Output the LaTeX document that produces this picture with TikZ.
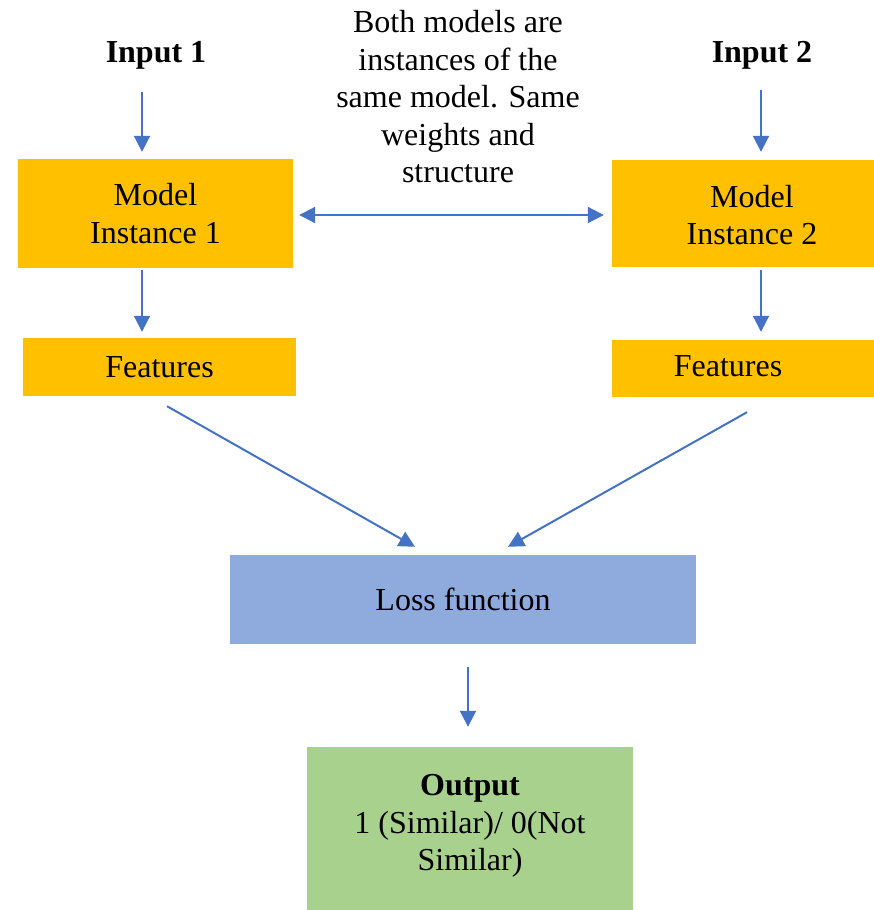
\documentclass[tikz,border=0pt]{standalone}
\usepackage{fontspec}
\setmainfont{Liberation Serif}
\usetikzlibrary{arrows.meta,calc}
\definecolor{boxorange}{HTML}{FFC000}
\definecolor{boxblue}{HTML}{8FAADC}
\definecolor{boxgreen}{HTML}{A9D18E}
\definecolor{arrowblue}{HTML}{4472C4}
\begin{document}
\begin{tikzpicture}[x=1pt,y=-1pt,
  txt/.style={font=\fontsize{32}{37.5}\selectfont, text=black, inner sep=0pt, align=center},
  boxbase/.style={draw=none, rectangle, inner sep=0pt, txt},
  orangebox/.style={boxbase, fill=boxorange},
  bluebox/.style={boxbase, fill=boxblue},
  greenbox/.style={boxbase, fill=boxgreen},
  arr/.style={draw=arrowblue, line width=2pt, -{Triangle[width=16pt,length=16pt]}},
  darr/.style={draw=arrowblue, line width=2pt, {Triangle[width=16pt,length=16pt]}-{Triangle[width=16pt,length=16pt]}}
]
\useasboundingbox (0,0) rectangle (874,910);
\clip (0,0) rectangle (874,910);
\fill[white] (0,0) rectangle (874,910);

% boxes
\node[orangebox, minimum width=275pt, minimum height=109pt] (m1) at (155.5,213.5) {Model\\Instance 1};
\node[orangebox, minimum width=268pt, minimum height=107pt] (m2) at (746,213.5) {};
\node[txt] (m2t) at (752,215) {Model\\Instance 2};
\node[orangebox, minimum width=273pt, minimum height=58pt] (f1) at (159.5,367) {Features};
\node[orangebox, minimum width=268pt, minimum height=57pt] (f2) at (746,368.5) {};
\node[txt] (f2t) at (728,366) {Features};
\node[bluebox, minimum width=466pt, minimum height=89pt] (loss) at (463,599.5) {Loss function};
\node[greenbox, minimum width=326pt, minimum height=163pt] (out) at (470,828.5) {};
\node[txt] (outt) at (470,826) {\textbf{Output}\\1 (Similar)/ 0(Not\\Similar)};

% labels
\node[txt, font=\fontsize{32}{37.5}\selectfont\bfseries] (in1) at (156,55) {Input 1};
\node[txt, font=\fontsize{32}{37.5}\selectfont\bfseries] (in2) at (762,55) {Input 2};
\node[txt] (note) at (458,97) {Both models are\\instances of the\\same model. Same\\weights and\\structure};

% connectors
\draw[arr] ($(in1.center)+(-14,37)$) -- ($(m1.north)+(-13.5,-7)$);
\draw[arr] ($(in2.center)+(-1,35)$) -- ($(m2.north)+(15,-8)$);
\draw[arr] ($(m1.south)+(-13.5,2)$) -- ($(f1.north)+(-17.5,-6)$);
\draw[arr] ($(m2.south)+(15,3)$) -- ($(f2.north)+(15,-8)$);
\draw[darr] ($(m1.east)+(6,1.5)$) -- ($(m2.west)+(-8,1.5)$);
\draw[arr] ($(f1.south)+(7.5,10)$) -- ($(loss.north)+(-48,-8)$);
\draw[arr] ($(f2.south)+(1,15)$) -- ($(loss.north)+(45,-8)$);
\draw[arr] ($(loss.south)+(5,23)$) -- ($(out.north)+(-2,-20)$);
\end{tikzpicture}
\end{document}
